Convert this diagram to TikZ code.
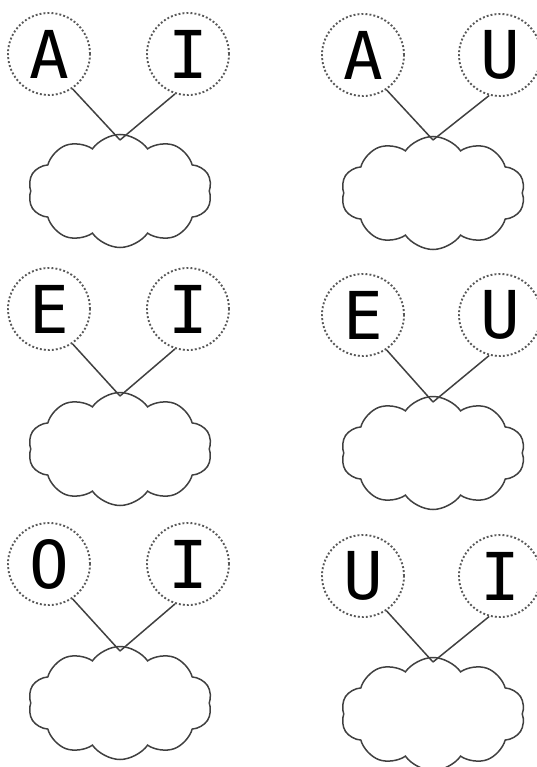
\documentclass[tikz,border=0pt]{standalone}
\usepackage{fontspec}
\newfontfamily\vowelfont{DejaVu Sans Mono}
\usetikzlibrary{shapes.symbols}

\tikzset{
  vowel/.style={circle, draw=black!65, line width=1.9pt, dash pattern=on 1.9pt off 2.1pt,
    minimum size=82pt, inner sep=0pt, font=\vowelfont\fontsize{66}{66}\selectfont},
  link/.style={draw=black!75, line width=1.5pt},
  puff/.style={cloud, cloud puffs=10, cloud puff arc=110, aspect=1.6, draw=black!75,
    line width=1.5pt, minimum width=184pt, minimum height=113pt, inner sep=0pt}
}

\begin{document}
\begin{tikzpicture}[x=1pt, y=-1pt]
        \useasboundingbox (0,0) rectangle (537,767);

        % first row
        \node[vowel] (a1) at (49,54) {A};
        \node[vowel] (i1) at (188,54) {I};
        \coordinate (m1) at (120,140);
        \node[puff] (c1) at (120,191) {};
        \draw[link] (a1.-56) -- (m1);
        \draw[link] (i1.-108) -- (m1);

        \node[vowel] (a2) at (363,55) {A};
        \node[vowel] (u2) at (500,55) {U};
        \coordinate (m2) at (433,140);
        \node[puff] (c2) at (433,193) {};
        \draw[link] (a2.-56) -- (m2);
        \draw[link] (u2.-105) -- (m2);

        % second row
        \node[vowel] (e3) at (49,309) {E};
        \node[vowel] (i3) at (188,309) {I};
        \coordinate (m3) at (120,396);
        \node[puff] (c3) at (120,449) {};
        \draw[link] (e3.-56) -- (m3);
        \draw[link] (i3.-108) -- (m3);

        \node[vowel] (e4) at (363,315) {E};
        \node[vowel] (u4) at (500,315) {U};
        \coordinate (m4) at (433,402);
        \node[puff] (c4) at (433,453) {};
        \draw[link] (e4.-56) -- (m4);
        \draw[link] (u4.-105) -- (m4);

        % third row
        \node[vowel] (o5) at (49,564) {O};
        \node[vowel] (i5) at (188,564) {I};
        \coordinate (m5) at (120,651);
        \node[puff] (c5) at (120,703) {};
        \draw[link] (o5.-56) -- (m5);
        \draw[link] (i5.-108) -- (m5);

        \node[vowel] (u6) at (363,576) {U};
        \node[vowel] (i6) at (500,576) {I};
        \coordinate (m6) at (433,662);
        \node[puff] (c6) at (433,714) {};
        \draw[link] (u6.-56) -- (m6);
        \draw[link] (i6.-105) -- (m6);
\end{tikzpicture}
\end{document}
